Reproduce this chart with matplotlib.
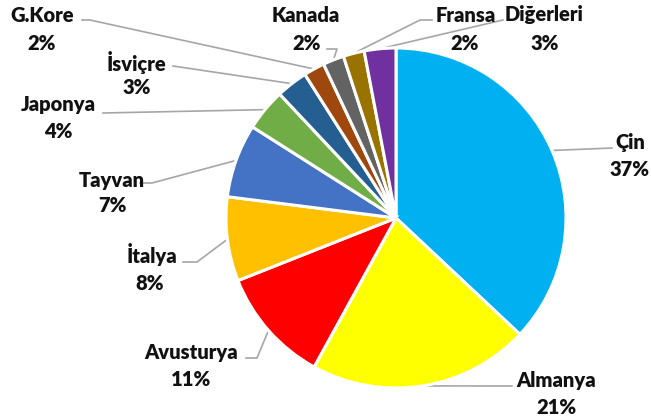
import numpy as np
import matplotlib.pyplot as plt

countries = ['Çin', 'Almanya', 'Avusturya', 'İtalya', 'Tayvan', 'Japonya',
             'İsviçre', 'G.Kore', 'Kanada', 'Fransa', 'Diğerleri']
shares = [37, 21, 11, 8, 7, 4, 3, 2, 2, 2, 3]
colors = ['#00B0F0', '#FFFF00', '#FF0000', '#FFC000', '#4472C4', '#70AD47',
          '#255E91', '#9E480E', '#636363', '#997300', '#7030A0']

W, H = 651, 418
cx, cy, R = 396, 218, 170

# label layout in pixel coords (top-left origin): name pos, pct pos, leader path (elbow, end)
layout = {
    'Çin':       ((630, 142), (630, 170), [(612, 148)]),
    'Almanya':   ((556, 380), (556, 407), [(512, 386)]),
    'Avusturya': ((191, 352), (191, 380), [(257, 358), (246, 358)]),
    'İtalya':    ((152, 255), (150, 283), [(197, 262), (183, 262)]),
    'Tayvan':    ((112, 180), (112, 205), [(152, 183), (140, 183)]),
    'Japonya':   ((58, 105), (58, 132), [(103, 113)]),
    'İsviçre':   ((137, 62), (137, 87), [(173, 66)]),
    'G.Kore':    ((42, 15), (42, 43), [(90, 20), (82, 20)]),
    'Kanada':    ((306, 15), (307, 43), [(337, 49), (327, 49)]),
    'Fransa':    ((466, 15), (465, 43), [(420, 20), (432, 20)]),
    'Diğerleri': ((544, 15), (545, 43), [(503, 20)]),
}

plt.rcParams['font.family'] = ['Lato', 'DejaVu Sans']

fig = plt.figure(figsize=(W / 100, H / 100), dpi=100)
ax = fig.add_axes([0, 0, 1, 1])

wedges, _ = ax.pie(shares, colors=colors, startangle=90, counterclock=False,
                   center=(cx, H - cy), radius=R,
                   wedgeprops=dict(edgecolor='white', linewidth=2.2))
ax.set_xlim(0, W)
ax.set_ylim(0, H)
ax.set_aspect('equal')
ax.axis('off')

for w, name, val in zip(wedges, countries, shares):
    mid = np.deg2rad((w.theta1 + w.theta2) / 2)
    sx, sy = cx + R * np.cos(mid), (H - cy) + R * np.sin(mid)
    npos, ppos, path = layout[name]
    xs = [sx] + [p[0] for p in path]
    ys = [sy] + [H - p[1] for p in path]
    ax.plot(xs, ys, color='#A6A6A6', lw=1.2, zorder=0)
    ax.text(npos[0], H - npos[1], name, ha='center', va='center',
            fontsize=14.5, fontweight='heavy', color='#111111')
    ax.text(ppos[0], H - ppos[1], f'{val}%', ha='center', va='center',
            fontsize=14.5, fontweight='heavy', color='#111111')

fig.savefig('out.png', dpi=100)
